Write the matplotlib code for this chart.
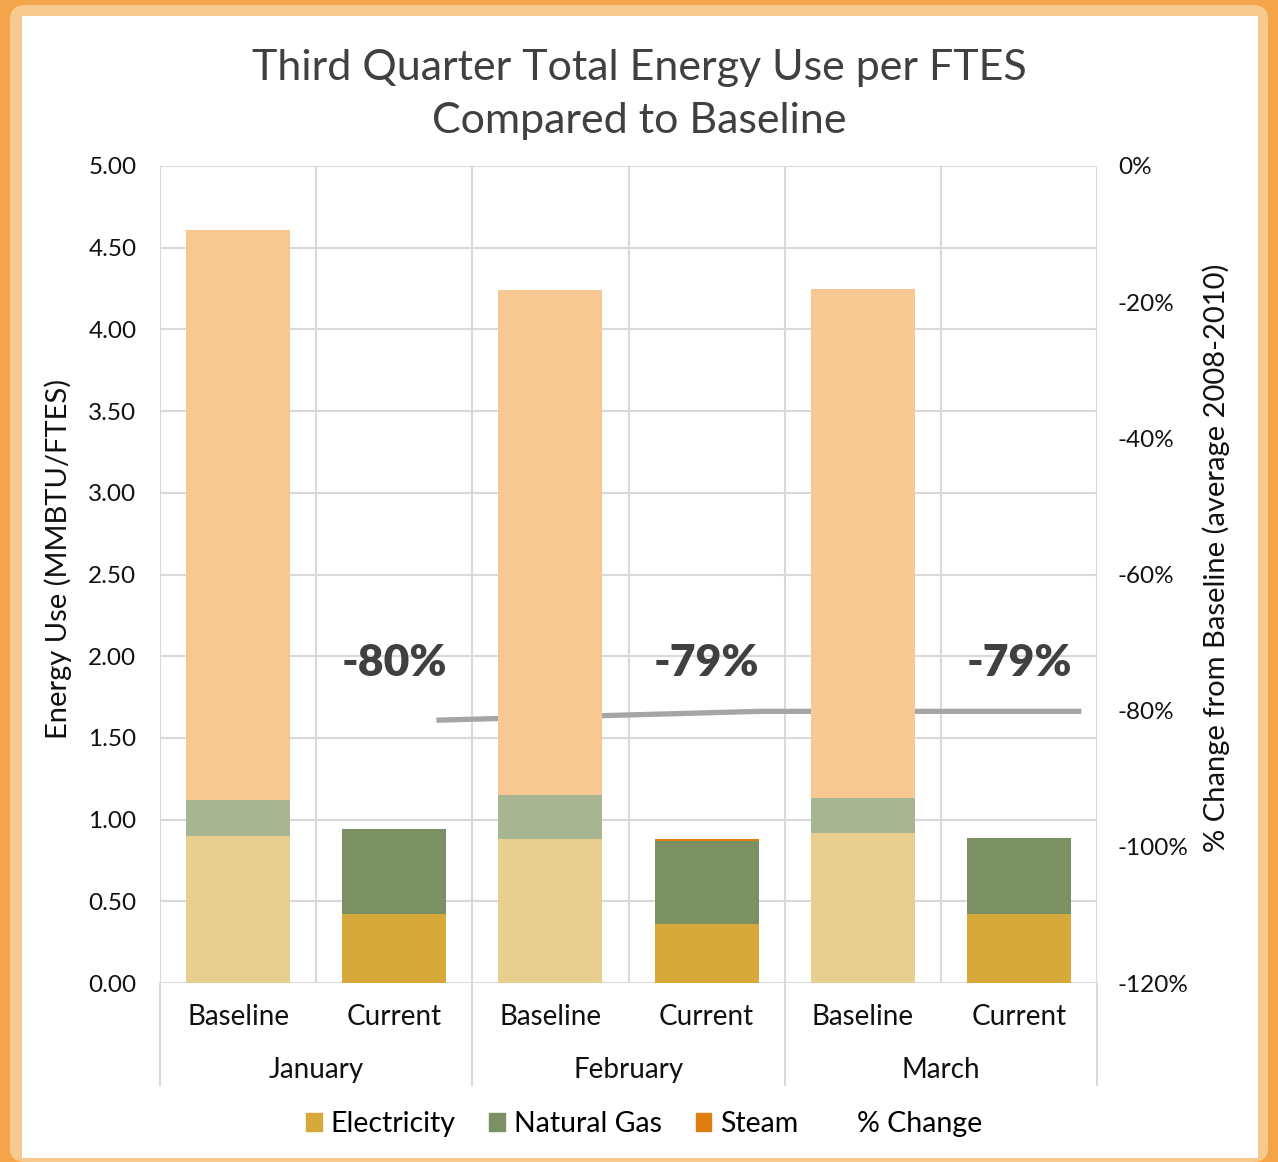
import matplotlib.pyplot as plt
import matplotlib.patches as mpatches
import matplotlib.transforms as mtransforms
import numpy as np

plt.rcParams['font.family'] = ['Lato', 'DejaVu Sans']

# data
months = ['January', 'February', 'March']
periods = ['Baseline', 'Current']
electricity = [0.90, 0.42, 0.88, 0.36, 0.92, 0.42]
natural_gas = [0.22, 0.52, 0.27, 0.51, 0.21, 0.47]
steam = [3.49, 0.00, 3.09, 0.01, 3.12, 0.00]
pct_change_x = [1.27, 3.34, 5.40]
pct_change = [-81.4, -80.1, -80.1]
pct_labels = ['-80%', '-79%', '-79%']

# colours (baseline = lighter tints)
elec_c = ['#E8CF8F', '#D7A93A']
gas_c = ['#A7B592', '#7C9163']
steam_c = ['#F7C891', '#E07D10']
grid_c = '#D9D9D9'
txt_c = '#111111'

W, H = 1278, 1162
fig = plt.figure(figsize=(W / 100, H / 100), dpi=100)
fig.patch.set_facecolor('#F4A54A')

# frame
fig.patches.append(mpatches.FancyBboxPatch((10 / W, 0), 1258 / W, (H - 5) / H,
                                           boxstyle='round,pad=0,rounding_size=0.012',
                                           transform=fig.transFigure, facecolor='#F7C98F',
                                           edgecolor='none', zorder=-2))
fig.patches.append(mpatches.Rectangle((22 / W, 4 / H), 1236 / W, (H - 20) / H,
                                      transform=fig.transFigure, facecolor='white',
                                      edgecolor='none', zorder=-1))

rect = [160 / W, (H - 983) / H, 937 / W, 817 / H]
ax2 = fig.add_axes(rect)
ax = fig.add_axes(rect, sharex=ax2)
ax2.set_zorder(1)
ax.set_zorder(2)
ax.patch.set_visible(False)
ax2.patch.set_facecolor('white')

x = np.arange(6)
bw = 2 / 3
cols = [i % 2 for i in x]
e = np.array(electricity)
g = np.array(natural_gas)
s = np.array(steam)
ax.bar(x, e, bw, color=[elec_c[c] for c in cols], zorder=3)
ax.bar(x, g, bw, bottom=e, color=[gas_c[c] for c in cols], zorder=3)
ax.bar(x, s, bw, bottom=e + g, color=[steam_c[c] for c in cols], zorder=3)

ax.set_xlim(-0.5, 5.5)
ax.set_ylim(0, 5)
ax.set_yticks(np.arange(0, 5.01, 0.5))
ax.set_yticklabels([f'{v:.2f}' for v in np.arange(0, 5.01, 0.5)])
for sp in ax.spines.values():
    sp.set_visible(False)
for sp in ax2.spines.values():
    sp.set_visible(False)
ax.tick_params(axis='y', length=0, labelsize=17.5, pad=17, labelcolor=txt_c)
ax.tick_params(axis='x', length=0, labelbottom=False)
ax.set_ylabel('Energy Use (MMBTU/FTES)', fontsize=21, color=txt_c)
ax.yaxis.set_label_coords(-0.094, 0.519)

# secondary axis with % change line (sits behind the bars)
ax2.yaxis.tick_right()
ax2.yaxis.set_label_position('right')
ax2.set_ylim(-120, 0)
ax2.set_yticks(np.arange(-120, 1, 20))
ax2.set_yticklabels([f'{v}%' for v in np.arange(-120, 1, 20)], ha='left')
ax2.tick_params(axis='y', length=0, labelsize=17.5, pad=15, labelcolor=txt_c)
ax2.tick_params(axis='x', length=0, labelbottom=False)
# gridlines on the back axes so the line sits on top of them
for yv in np.arange(-120, 1, 120 / 10):
    ax2.axhline(yv, color=grid_c, linewidth=1.5, zorder=0)
for xv in np.arange(-0.5, 5.6, 1):
    ax2.axvline(xv, color=grid_c, linewidth=1.5, zorder=0)
ax2.plot(pct_change_x, pct_change, color='#A5A5A5', linewidth=3.8, solid_capstyle='butt', zorder=2)
ax2.set_ylabel('% Change from Baseline (average 2008-2010)', fontsize=21, labelpad=10,
               color=txt_c)
ax2.yaxis.label.set_y(0.521)

for xi, lab in zip([1, 3, 5], pct_labels):
    ax.text(xi, 1.96, lab, ha='center', va='center', fontsize=32, fontweight='heavy',
            color='#404040', zorder=5)

# multi-level category axis
trans = mtransforms.blended_transform_factory(ax.transData, ax.transAxes)
for i in x:
    ax.text(i, -0.042, periods[i % 2], transform=trans, ha='center', va='center',
            fontsize=20, color=txt_c)
for j, m in enumerate(months):
    ax.text(2 * j + 0.5, -0.106, m, transform=trans, ha='center', va='center',
            fontsize=20, color=txt_c)
for xv in [-0.5, 1.5, 3.5, 5.5]:
    ax.plot([xv, xv], [0, -0.125], transform=trans, color=grid_c, linewidth=1.5,
            clip_on=False, zorder=0)

fig.suptitle('Third Quarter Total Energy Use per FTES\nCompared to Baseline', y=0.958,
             fontsize=31, color='#404040', linespacing=1.5)

handles = [mpatches.Patch(color=elec_c[1], label='Electricity'),
           mpatches.Patch(color=gas_c[1], label='Natural Gas'),
           mpatches.Patch(color=steam_c[1], label='Steam'),
           mpatches.Patch(color='none', label='% Change')]
fig.legend(handles=handles, loc='center', bbox_to_anchor=(644 / W, (H - 1124) / H), ncol=4,
           frameon=False, fontsize=20.5, handlelength=0.55, handleheight=0.55,
           handletextpad=0.3, columnspacing=1.2)

fig.savefig('out.png', dpi=100, facecolor=fig.get_facecolor())
